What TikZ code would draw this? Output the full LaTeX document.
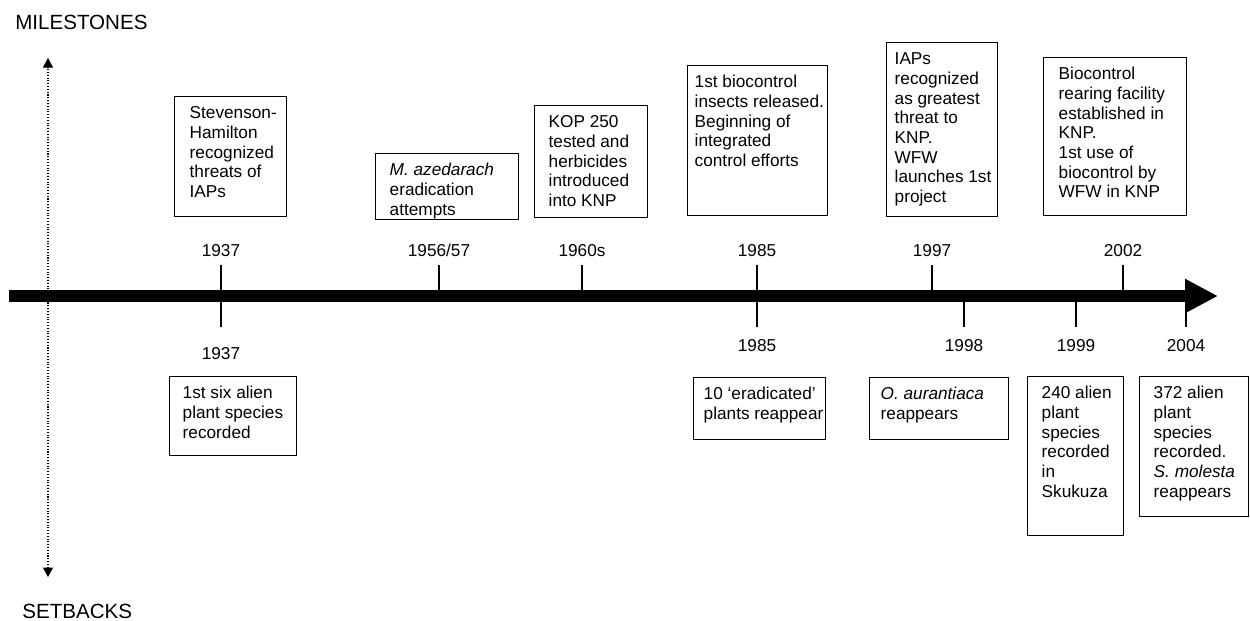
\documentclass[tikz,border=0pt]{standalone}
\usepackage{fontspec}
\setmainfont{Liberation Sans}
\usetikzlibrary{arrows.meta}
\newlength{\pxu}\setlength{\pxu}{0.02cm}
% #1 left pad, #2 width, #3 height (all in px of the sketch)
\newcommand{\evt}[4][14]{\parbox[t][#3\pxu][t]{#2\pxu}{\raggedright\leftskip=#1\pxu\relax
  \vspace*{8.5\pxu}\strut#4}}
\tikzset{
  evbox/.style={draw,line width=0.8pt,inner sep=0pt,anchor=north west,font=\fontsize{9.8}{11.17}\selectfont},
  yr/.style={font=\fontsize{9.8}{12}\selectfont,inner sep=0pt,text height=7pt,text depth=0pt},
  tick/.style={line width=0.6pt},
  axlbl/.style={font=\fontsize{11.7}{14}\selectfont,anchor=west,inner sep=0pt},
}

\begin{document}
\begin{tikzpicture}[x=0.02cm,y=-0.02cm]
  \useasboundingbox (0,0) rectangle (1250,620);
  \node[axlbl] (mile) at (15,22) {MILESTONES};
  \node[axlbl] (setb) at (22,611) {SETBACKS};
  % dotted up/down axis
  \coordinate (axtop) at (48,58);
  \coordinate (axbot) at (48,577);
  \draw[densely dotted,line width=0.6pt,{Triangle[length=1.9mm,width=2mm]}-{Triangle[length=1.9mm,width=2mm]}] (axbot) -- (axtop);
  % time line
  \coordinate (t0) at (9,296);
  \coordinate (tend) at (1218,296);
  \draw[line width=2.4mm,-{Triangle[length=6.6mm,width=6.4mm]}] (t0) -- (tend);
  % years above
  \foreach \x/\yr [count=\i] in {221/1937,439/{1956/57},582/1960s,757/1985,932/1997,1123/2002}{
    \node[yr] (hi\i) at (\x,250) {\yr};
    \coordinate (hit\i) at (\x,265);
    \draw[tick] (hit\i) -- (hit\i |- t0);
  }
  % years below
  \foreach \x/\yr/\y [count=\i] in {221/1937/353,757/1985/345,964/1998/345,1076/1999/345,1186/2004/345}{
    \node[yr] (lo\i) at (\x,\y) {\yr};
    \coordinate (lot\i) at (\x,327);
    \draw[tick] (lot\i) -- (lot\i |- t0);
  }
  % milestones
  \node[evbox] (m1937) at (174,96) {\evt[15]{112}{120}{Stevenson-\\Hamilton\\recognized\\threats of\\IAPs}};
  \node[evbox] (m1956) at (375,153) {\evt{143}{66}{\textit{M. azedarach}\\eradication\\attempts}};
  \node[evbox] (m1960) at (534,105) {\evt{113}{112}{KOP 250\\tested and\\herbicides\\introduced\\into KNP}};
  \node[evbox] (m1985) at (687,65) {\evt[7]{140}{150}{1st biocontrol\\insects released.\\Beginning of\\integrated\\control efforts}};
  \node[evbox] (m1997) at (886,42) {\evt[8]{111}{174}{IAPs\\recognized\\as greatest\\threat to\\KNP.\\WFW\\launches 1st\\project}};
  \node[evbox] (m2002) at (1043,57) {\evt[15]{143}{158}{Biocontrol\\rearing facility\\established in\\KNP.\\1st use of\\biocontrol by\\WFW in KNP}};
  % setbacks
  \node[evbox] (s1937) at (169,376) {\evt[13]{127}{79}{1st six alien\\plant species\\recorded}};
  \node[evbox] (s1985) at (693,377) {\evt[10]{132}{62}{10 ‘eradicated’\\plants reappear}};
  \node[evbox] (s1998) at (869,377) {\evt[11]{139}{62}{\textit{O. aurantiaca}\\reappears}};
  \node[evbox] (s1999) at (1027,376) {\evt{96}{159}{240 alien\\plant\\species\\recorded\\in\\Skukuza}};
  \node[evbox] (s2004) at (1139,376) {\evt{109}{140}{372 alien\\plant\\species\\recorded.\\\textit{S. molesta}\\reappears}};
\end{tikzpicture}
\end{document}
